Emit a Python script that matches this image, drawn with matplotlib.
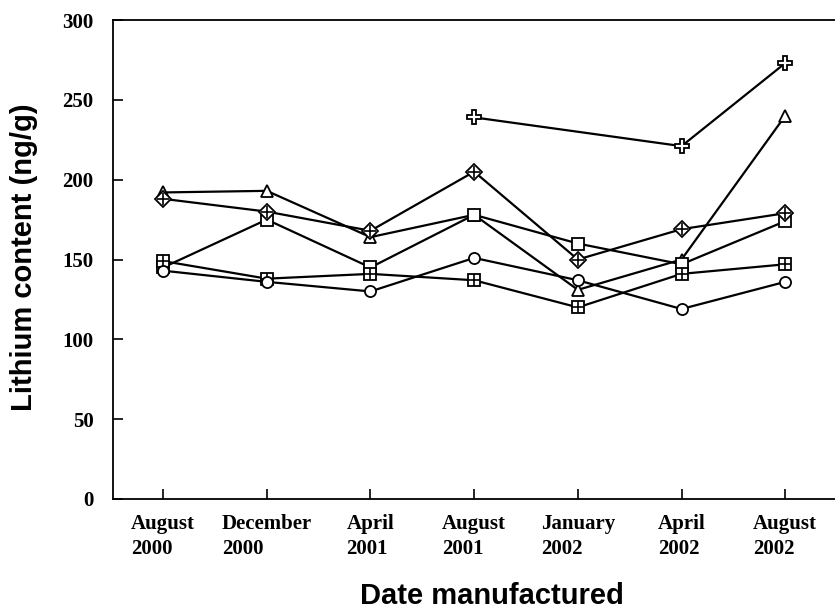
import matplotlib
matplotlib.use("Agg")
import matplotlib.pyplot as plt

dates = ["August\n2000", "December\n2000", "April\n2001", "August\n2001",
         "January\n2002", "April\n2002", "August\n2002"]

triangle = [192, 193, 164, 178, 131, 150, 240]
diamond = [188, 180, 168, 205, 150, 169, 179]
square = [145, 175, 145, 178, 160, 147, 174]
sqplus = [149, 138, 141, 137, 120, 141, 147]
circle = [143, 136, 130, 151, 137, 119, 136]
cross_idx = [3, 5, 6]
cross = [239, 221, 273]

yticks = [0, 50, 100, 150, 200, 250, 300]

fig = plt.figure(figsize=(8.35, 6.10), dpi=100)
ax = fig.add_axes([113/835, 1-499/610, 722/835, 479/610])

x = list(range(len(dates)))
lw = 1.6
common = dict(color="black", lw=lw, mfc="white", mec="black", mew=1.3)

ax.plot(x, triangle, marker="^", ms=9, **common)
ax.plot(x, square, marker="s", ms=8, **common)
ax.plot(x, sqplus, marker="s", ms=8, **common)
ax.plot(x, sqplus, ls="none", marker="+", ms=8, mec="black", mew=1.2)
ax.plot(x, circle, marker="o", ms=8, **common)
ax.plot(x, diamond, marker="D", ms=8, **common)
ax.plot(x, diamond, ls="none", marker="+", ms=8, mec="black", mew=1.2)
ax.plot(cross_idx, cross, marker="P", ms=10, **common)

ax.set_xlim(-0.483, 6.48)
ax.set_ylim(0, 300)
ax.set_yticks(yticks)
ax.set_xticks(x)
ax.set_xticklabels(dates, multialignment="left", linespacing=1.3)
ax.spines["right"].set_visible(False)
for s in ["left", "top", "bottom"]:
    ax.spines[s].set_linewidth(1.3)

for lab in ax.get_xticklabels() + ax.get_yticklabels():
    lab.set_fontfamily("Liberation Serif")
    lab.set_fontweight("bold")
    lab.set_fontsize(15)
ax.tick_params(axis="y", direction="in", length=7, width=1.2, pad=14)
ax.tick_params(axis="x", direction="in", length=7, width=1.2, pad=11)

ax.set_ylabel("Lithium content (ng/g)", fontfamily="Liberation Sans",
              fontweight="bold", fontsize=21)
ax.yaxis.set_label_coords(-0.104, 0.505)
ax.set_xlabel("Date manufactured", fontfamily="Liberation Sans",
              fontweight="bold", fontsize=21, va="center")
ax.xaxis.set_label_coords(0.525, -0.2025)

fig.savefig("out.png", dpi=100)
